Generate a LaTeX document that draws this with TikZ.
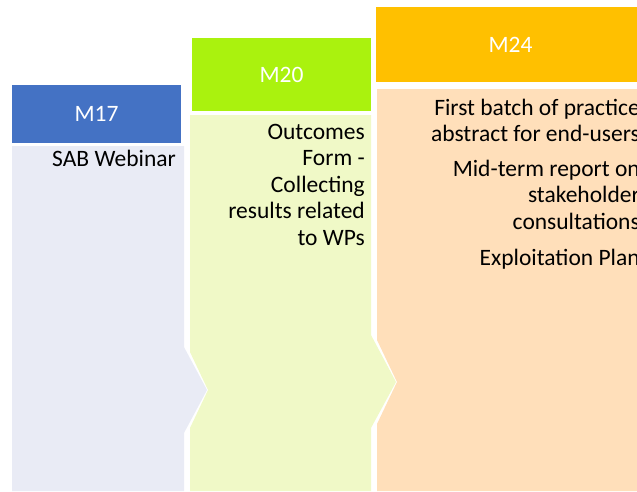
\documentclass[tikz,border=0pt]{standalone}
\usepackage{fontspec}
\setmainfont{Carlito}
\definecolor{headblue}{HTML}{4472C4}
\definecolor{headgreen}{HTML}{AAF20E}
\definecolor{headorange}{HTML}{FFC000}
\definecolor{bodyblue}{HTML}{E9EBF5}
\definecolor{bodygreen}{HTML}{F0F9C7}
\definecolor{bodyorange}{HTML}{FFDFBA}
\begin{document}
\begin{tikzpicture}
  [
    x=1pt,y=-1pt,
    header/.style={rectangle,inner sep=0pt,text=white,font=\fontsize{23.5}{26.5}\selectfont},
    entry/.style={anchor=base east,align=right,inner sep=0pt,font=\fontsize{23.5}{26.5}\selectfont},
  ]
  \useasboundingbox (0,0) rectangle (637,491);
  % column bodies
  \fill[bodyblue] (12,146) -- (184,146) -- (184,347) -- (207,390) -- (184,433) -- (184,491) -- (12,491) -- cycle;
  \fill[bodygreen] (190,115) -- (371,115) -- (371,335) -- (396,382) -- (371,428) -- (371,491)
    -- (190,491) -- (190,428) -- (208,390) -- (190,352) -- cycle;
  \fill[bodyorange] (377,89) -- (645,89) -- (645,491) -- (377,491) -- (377,424) -- (397,382) -- (377,340) -- cycle;
  % headers
  \node (m17) at (96.5,114) [header,fill=headblue,minimum width=169pt,minimum height=58pt] {M17};
  \node (m20) at (281.5,74.5) [header,fill=headgreen,minimum width=179pt,minimum height=73pt] {M20};
  \node (m24) at (510.5,44.5) [header,fill=headorange,minimum width=269pt,minimum height=75pt] {M24};
  % entries (base = last line)
  \node (webinar) at (176,166) [entry] {SAB Webinar};
  \node (outcomes) at (365,245) [entry] {Outcomes\\Form -\\Collecting\\results related\\to WPs};
  \node (deliverables) at (640,265) [entry] {First batch of practice\\abstract for end-users\\[8pt]Mid-term report on\\stakeholder\\consultations\\[9.5pt]Exploitation Plan};
\end{tikzpicture}
\end{document}
